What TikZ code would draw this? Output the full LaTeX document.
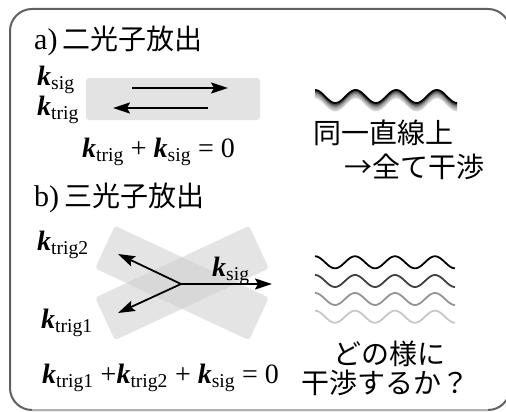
\documentclass[tikz,border=0pt]{standalone}
\usepackage{fontspec}
\setmainfont{Liberation Serif}
\newfontfamily\jpfont{Noto Sans CJK JP}
\usetikzlibrary{arrows.meta}
\newcommand{\kv}[1]{{\bfseries\itshape k}\textsubscript{#1}}
\tikzset{
  jptext/.style={font=\jpfont\fontsize{28}{31}\selectfont, inner sep=0pt},
  lbl/.style={font=\fontsize{28}{32}\selectfont, inner sep=0pt},
  arr/.style={line width=1.8pt, -{Stealth[length=17pt,width=11pt,inset=3pt]}},
  band/.style={fill=black!11, rounded corners=3pt},
  xband/.style={fill=black!20, fill opacity=0.52, rounded corners=3pt},
  frame/.style={draw=black!62, line width=2pt, rounded corners=22pt},
  wave/.style={line width=1.8pt},
}
\begin{document}
\begin{tikzpicture}[x=1pt,y=-1pt]
\useasboundingbox (0,0) rectangle (506,412);
% frame
\draw[frame] (10,9) rectangle (510,410);
\draw[draw=black!30, line width=2pt] (32,410) -- (488,410);

% ---- a) ----
\node[anchor=base west, inner sep=0pt] (ta) at (34,50)
  {{\fontsize{30}{32}\selectfont a)}\hspace{5pt}{\jpfont\fontsize{28}{31}\selectfont 二光子放出}};
\fill[band] (86,78) rectangle (260,120);
\node[lbl, anchor=base west] (ksa) at (37,85) {\kv{sig}};
\node[lbl, anchor=base west] (kta) at (37,115) {\kv{trig}};
\coordinate (ar1s) at (132,88);
\coordinate (ar1e) at (228,88);
\coordinate (ar2s) at (208,108);
\coordinate (ar2e) at (113,108);
\draw[arr] (ar1s) -- (ar1e);
\draw[arr] (ar2s) -- (ar2e);
\node[lbl, anchor=base west] (eqa) at (82,157) {\kv{trig} + \kv{sig} = 0};

% wave a (stacked)
\foreach \d/\c in {7.5/black!15, 6/black!25, 4.5/black!35, 3/black!50, 1.5/black!70, 0/black}
  \draw[wave, draw=\c] plot[domain=0:1260, samples=140, smooth]
    ({315+\x/360*40.6}, {96.5+\d-6.5*cos(\x)});
\node[jptext, anchor=west] (ja1) at (313,133) {同一直線上};
\node[jptext, anchor=west] (ja2) at (344,167) {→全て干渉};

% ---- b) ----
\node[anchor=base west, inner sep=0pt] (tb) at (34,206)
  {{\fontsize{30}{32}\selectfont b)}\hspace{5pt}{\jpfont\fontsize{28}{31}\selectfont 三光子放出}};
\fill[xband] (114.9,225.8) -- (268.9,297.6) -- (249.1,340.2) -- (95.1,268.4) -- cycle;
\fill[xband] (95.1,297.6) -- (249.1,225.8) -- (268.9,268.4) -- (114.9,340.2) -- cycle;
\coordinate (o) at (181,284);
\coordinate (tsig) at (272,284);
\coordinate (ttr2) at (118,254);
\coordinate (ttr1) at (118,313);
\draw[arr] (o) -- (tsig);
\draw[arr] (o) -- (ttr2);
\draw[arr] (o) -- (ttr1);
\node[lbl, anchor=base west] (kt2) at (37,250) {\kv{trig2}};
\node[lbl, anchor=base west] (kt1) at (41,328) {\kv{trig1}};
\node[lbl, anchor=base west] (ksb) at (212,276) {\kv{sig}};
\node[lbl, anchor=base west] (eqb) at (42,383) {\kv{trig1} +\kv{trig2} + \kv{sig} = 0};

% waves b
\foreach \yy/\c in {262.3/black, 281/black!75, 299/black!42, 316.7/black!22}
  \draw[wave, draw=\c] plot[domain=0:1260, samples=140, smooth]
    ({315+\x/360*40}, {\yy-6*cos(\x)});
\node[jptext, anchor=west] (jb1) at (333,354) {どの様に};
\node[jptext, anchor=west] (jb2) at (301,383) {干渉するか？};
\end{tikzpicture}
\end{document}
